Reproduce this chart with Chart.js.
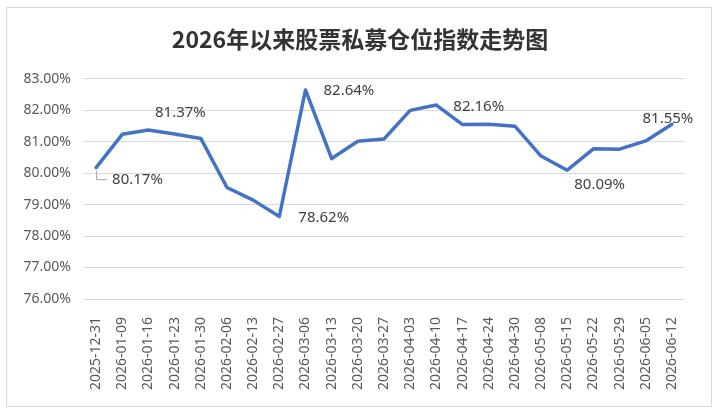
<!DOCTYPE html>
<html>
<head>
<meta charset="utf-8">
<script src="https://cdn.jsdelivr.net/npm/chart.js@4"></script>
<style>
  html, body { margin: 0; padding: 0; background: #fff; }
  canvas { display: block; }
</style>
</head>
<body>
<canvas id="chart" width="720" height="418"></canvas>
<script>
// chart data
const dates = [
  '2025-12-31', '2026-01-09', '2026-01-16', '2026-01-23', '2026-01-30', '2026-02-06',
  '2026-02-13', '2026-02-27', '2026-03-06', '2026-03-13', '2026-03-20', '2026-03-27',
  '2026-04-03', '2026-04-10', '2026-04-17', '2026-04-24', '2026-04-30', '2026-05-08',
  '2026-05-15', '2026-05-22', '2026-05-29', '2026-06-05', '2026-06-12'
];
const positionIndex = [
  80.17, 81.23, 81.37, 81.24, 81.10, 79.54,
  79.14, 78.62, 82.64, 80.46, 81.01, 81.08,
  81.99, 82.16, 81.54, 81.55, 81.49, 80.54,
  80.09, 80.77, 80.76, 81.02, 81.55
];
const yTicks = [76, 77, 78, 79, 80, 81, 82, 83];
const labelledPoints = [0, 2, 7, 8, 13, 18, 22];

// where each value label sits relative to its point
const labelStyle = {
  0:  { dx: 16, dy: 12, align: 'left' },
  2:  { dx: 32, dy: -17, align: 'center' },
  7:  { dx: 19, dy: 1, align: 'left' },
  8:  { dx: 18, dy: 1, align: 'left' },
  13: { dx: 17, dy: 2, align: 'left' },
  18: { dx: 7, dy: 15, align: 'left' },
  22: { dx: -4, dy: -6, align: 'center' }
};

const frame = {
  id: 'frame',
  beforeDraw(chart) {
    const ctx = chart.ctx;
    ctx.save();
    ctx.fillStyle = '#fff';
    ctx.fillRect(0, 0, chart.width, chart.height);
    ctx.strokeStyle = '#d9d9d9';
    ctx.lineWidth = 1;
    ctx.strokeRect(6.5, 7.5, 705, 399);
    ctx.restore();
  }
};

const valueLabels = {
  id: 'valueLabels',
  afterDatasetsDraw(chart) {
    const ctx = chart.ctx;
    const meta = chart.getDatasetMeta(0);
    ctx.save();
    ctx.font = '15px "Noto Sans", sans-serif';
    ctx.fillStyle = '#404040';
    ctx.textBaseline = 'middle';
    labelledPoints.forEach(i => {
      const pt = meta.data[i];
      const s = labelStyle[i];
      if (i === 0) {
        // leader line to the first label
        ctx.strokeStyle = '#a6a6a6';
        ctx.lineWidth = 1;
        ctx.beginPath();
        ctx.moveTo(pt.x + 0.5, pt.y + 3);
        ctx.lineTo(pt.x + 0.5, pt.y + s.dy);
        ctx.lineTo(pt.x + s.dx - 5, pt.y + s.dy);
        ctx.stroke();
      }
      ctx.textAlign = s.align;
      ctx.fillText(positionIndex[i].toFixed(2) + '%', pt.x + s.dx, pt.y + s.dy);
    });
    ctx.restore();
  }
};

new Chart(document.getElementById('chart'), {
  type: 'line',
  data: {
    labels: dates,
    datasets: [{
      data: positionIndex,
      borderColor: '#4472C4',
      borderWidth: 3.5,
      borderJoinStyle: 'round',
      borderCapStyle: 'round',
      pointRadius: 0,
      tension: 0,
      fill: false
    }]
  },
  options: {
    responsive: false,
    animation: false,
    layout: { padding: 0 },
    plugins: {
      legend: { display: false },
      tooltip: { enabled: false },
      title: {
        display: true,
        text: '2026年以来股票私募仓位指数走势图',
        color: '#333333',
        font: { family: '"Noto Sans CJK SC", sans-serif', size: 23, weight: 'bold' },
        padding: { top: 25, bottom: 26 }
      }
    },
    scales: {
      x: {
        offset: true,
        grid: { display: false },
        border: { display: false },
        ticks: {
          autoSkip: false,
          minRotation: 90,
          maxRotation: 90,
          padding: 10,
          color: '#595959',
          font: { family: '"Noto Sans", sans-serif', size: 14 }
        },
        afterFit(scale) { scale.height = 119; }
      },
      y: {
        min: yTicks[0],
        max: yTicks[yTicks.length - 1],
        afterBuildTicks(scale) { scale.ticks = yTicks.map(v => ({ value: v })); },
        grid: { color: '#d9d9d9', drawTicks: false },
        border: { display: false },
        ticks: {
          padding: 12,
          color: '#595959',
          font: { family: '"Noto Sans", sans-serif', size: 14 },
          callback: v => v.toFixed(2) + '%'
        },
        afterFit(scale) { scale.width = 83; }
      },
      // empty right axis, only reserves the right margin
      yRight: {
        position: 'right',
        min: yTicks[0],
        max: yTicks[yTicks.length - 1],
        grid: { display: false },
        border: { display: false },
        ticks: { display: false },
        afterFit(scale) { scale.width = 35; }
      }
    }
  },
  plugins: [frame, valueLabels]
});
</script>
</body>
</html>
